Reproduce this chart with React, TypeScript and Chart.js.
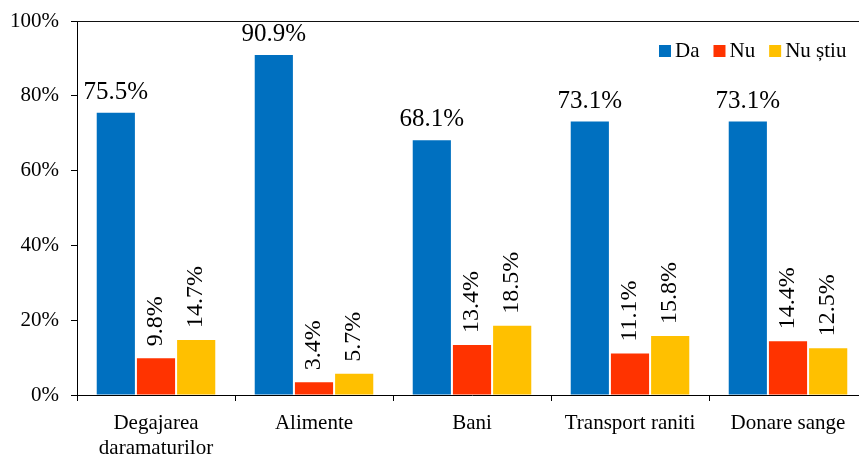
import React, { useEffect, useRef } from "react";
import { Chart, registerables } from "chart.js";

Chart.register(...registerables);

const categories: (string | string[])[] = [
  ["Degajarea", "daramaturilor"],
  "Alimente",
  "Bani",
  "Transport raniti",
  "Donare sange",
];
const seriesNames = ["Da", "Nu", "Nu știu"];
const daValues = [75.5, 90.9, 68.1, 73.1, 73.1];
const nuValues = [9.8, 3.4, 13.4, 11.1, 14.4];
const nuStiuValues = [14.7, 5.7, 18.5, 15.8, 12.5];
const colors = ["#0070C0", "#FF3300", "#FFC000"];

const FONT = "'Liberation Serif', 'Times New Roman', serif";

const labelsPlugin = {
  id: "customLabels",
  afterDraw(chart: any) {
    const ctx = chart.ctx;
    ctx.save();
    ctx.setLineDash([]);
    ctx.globalAlpha = 1;
    ctx.fillStyle = "#000";
    chart.data.datasets.forEach((ds: any, di: number) => {
      const meta = chart.getDatasetMeta(di);
      meta.data.forEach((bar: any, i: number) => {
        const v = ds.data[i];
        const txt = v.toFixed(1) + "%";
        if (di === 0) {
          ctx.font = `25px ${FONT}`;
          ctx.textAlign = "center";
          ctx.textBaseline = "alphabetic";
          ctx.fillText(txt, bar.x, bar.y - 14);
        } else {
          ctx.save();
          ctx.font = `24px ${FONT}`;
          ctx.translate(bar.x, bar.y - 12);
          ctx.rotate(-Math.PI / 2);
          ctx.textAlign = "left";
          ctx.textBaseline = "middle";
          ctx.fillText(txt, 0, 0);
          ctx.restore();
        }
      });
    });
    const a = chart.chartArea;
    ctx.fillStyle = "#111";
    ctx.fillRect(a.left, Math.round(a.top), chart.width - a.left, 1);
    ctx.font = `21px ${FONT}`;
    ctx.textAlign = "left";
    ctx.textBaseline = "middle";
    let x = 659;
    const y = 51;
    chart.data.datasets.forEach((ds: any) => {
      ctx.fillStyle = ds.backgroundColor;
      ctx.fillRect(x, y - 6, 12, 12);
      ctx.fillStyle = "#000";
      ctx.fillText(ds.label, x + 16, y);
      x += 16 + ctx.measureText(ds.label).width + 14;
    });
    ctx.restore();
  },
};

export default function App() {
  const ref = useRef<HTMLCanvasElement | null>(null);
  useEffect(() => {
    if (!ref.current) return;
    const values = [daValues, nuValues, nuStiuValues];
    const chart = new Chart(ref.current, {
      type: "bar",
      data: {
        labels: categories,
        datasets: seriesNames.map((name, i) => ({
          label: name,
          data: values[i],
          backgroundColor: colors[i],
          borderWidth: 0,
          categoryPercentage: 0.763,
          barPercentage: 0.95,
        })),
      },
      options: {
        animation: false,
        responsive: true,
        maintainAspectRatio: false,
        layout: { padding: { left: 0, right: 0, top: 21, bottom: 0 } },
        plugins: {
          legend: { display: false },
          tooltip: { enabled: false },
        },
        scales: {
          x: {
            grid: {
              drawOnChartArea: false,
              drawTicks: true,
              tickLength: 6,
              color: "#000",
            },
            border: { color: "#000", width: 1 },
            ticks: {
              color: "#000",
              font: { family: FONT, size: 21, lineHeight: 1.2 },
              padding: 10,
              maxRotation: 0,
              autoSkip: false,
            },
            afterFit(scale: any) {
              scale.height = 59;
              scale.paddingLeft = 0;
              scale.paddingRight = 0;
            },
          },
          y: {
            min: 0,
            max: 100,
            grid: {
              drawOnChartArea: false,
              drawTicks: true,
              tickLength: 6,
              color: "#000",
            },
            border: { color: "#000", width: 1 },
            ticks: {
              stepSize: 20,
              color: "#000",
              font: { family: FONT, size: 21 },
              padding: 12,
              callback: (v: any) => v + "%",
            },
            afterFit(scale: any) {
              scale.width = 77;
              scale.paddingTop = 0;
              scale.paddingBottom = 0;
            },
          },
        },
      },
      plugins: [labelsPlugin],
    });
    return () => chart.destroy();
  }, []);
  return (
    <div
      style={{
        position: "fixed",
        left: 0,
        top: 0,
        width: 859,
        height: 454,
        overflow: "hidden",
        background: "#fff",
      }}
    >
      <div style={{ position: "relative", width: 867, height: 454 }}>
        <canvas ref={ref} />
      </div>
    </div>
  );
}
